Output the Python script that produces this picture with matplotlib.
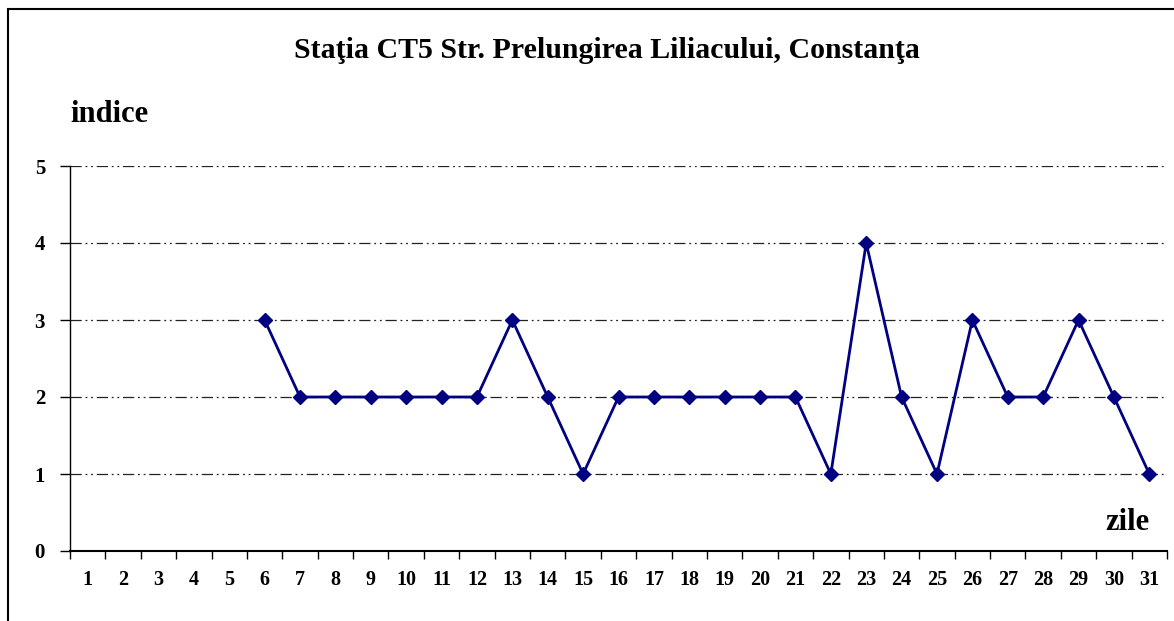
import matplotlib.pyplot as plt
from matplotlib.patches import Rectangle

# date
zile = list(range(1, 32))
zile_masurate = list(range(6, 32))
indice = [3, 2, 2, 2, 2, 2, 2, 3, 2, 1, 2, 2, 2, 2, 2, 2, 1, 4, 2, 1, 3, 2, 2, 3, 2, 1]

plt.rcParams['font.family'] = ['Liberation Serif', 'DejaVu Serif']
plt.rcParams['font.weight'] = 'bold'

fig = plt.figure(figsize=(11.74, 6.21), dpi=100)
ax = fig.add_axes([70 / 1174, 1 - 551 / 621, 1097 / 1174, 385 / 621])

# chenar in jurul figurii
top = 1 - 8.5 / 621
fig.patches.append(Rectangle((7.5 / 1174, -0.2), 1.2, top + 0.2, transform=fig.transFigure,
                             fill=False, edgecolor='black', linewidth=1.5, zorder=0))

ax.plot(zile_masurate, indice, color='#000080', linewidth=2, marker='D', markersize=7,
        markerfacecolor='#000080', markeredgecolor='#000080', zorder=3)

ax.set_xlim(0.5, 31.5)
ax.set_ylim(0, 5)
ax.set_yticks(range(0, 6))
ax.set_xticks(zile)
ax.set_xticks([z + 0.5 for z in range(0, 32)], minor=True)
ax.tick_params(axis='x', which='major', length=0, pad=14, labelsize=14.5)
ax.tick_params(axis='x', which='minor', length=6, width=1, direction='out')
ax.tick_params(axis='y', length=7, width=1, direction='out', pad=11, labelsize=15)

for v in range(1, 6):
    ax.axhline(v, color='#222222', linewidth=0.9, linestyle=(0, (9, 3, 1.5, 3, 1.5, 3)), zorder=1)

for s in ['top', 'right']:
    ax.spines[s].set_visible(False)
ax.spines['left'].set_linewidth(1)
ax.spines['bottom'].set_linewidth(1.5)

fig.text(607 / 1174, 1 - 51 / 621, 'Staţia CT5 Str. Prelungirea Liliacului, Constanţa',
         ha='center', va='center', fontsize=21.5, fontweight='bold')
fig.text(70 / 1174, 1 - 114 / 621, 'indice', ha='left', va='center', fontsize=22, fontweight='bold')
fig.text(1150 / 1174, 1 - 522 / 621, 'zile', ha='right', va='center', fontsize=22, fontweight='bold')

fig.savefig('out.png', dpi=100)
